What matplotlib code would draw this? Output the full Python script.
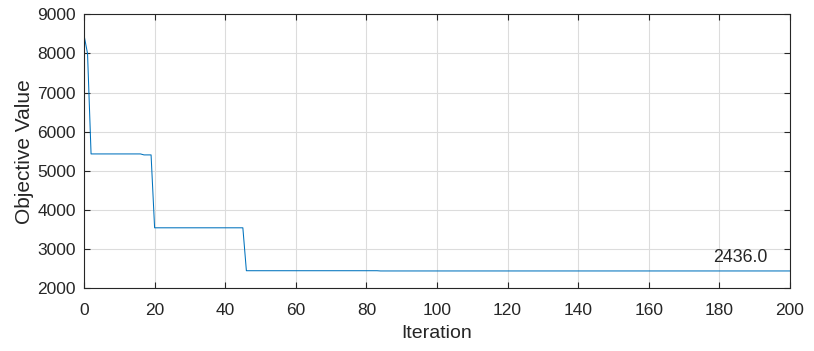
import matplotlib.pyplot as plt
import numpy as np

plt.rcParams['font.family'] = ['Liberation Sans', 'DejaVu Sans']

# best objective value per iteration (step-wise)
iters = np.arange(0, 201)
step_starts = [0, 1, 2, 17, 20, 46, 84]
step_values = [8470, 8000, 5430, 5405, 3540, 2442, 2436]

obj = np.zeros(len(iters))
for s, v in zip(step_starts, step_values):
    obj[iters >= s] = v

final_label = '2436.0'
label_pos = (178.3, 2770)

ax_color = '#262626'

fig = plt.figure(figsize=(8.14, 3.51), dpi=100)
ax = fig.add_axes([0.1032, 0.1795, 0.8673, 0.7795])

ax.plot(iters, obj, color='#0072BD', linewidth=0.75)
ax.text(label_pos[0], label_pos[1], final_label, fontsize=12.8, color=ax_color,
        ha='left', va='center')

ax.set_xlim(0, 200)
ax.set_ylim(2000, 9000)
ax.set_xticks(np.arange(0, 201, 20))
ax.set_yticks(np.arange(2000, 9001, 1000))
ax.grid(True, color='#dcdcdc', linewidth=0.8)
ax.set_axisbelow(True)

ax.tick_params(direction='in', top=True, right=True, labelsize=12.5,
               colors=ax_color, length=4, width=0.8)
ax.tick_params(axis='x', pad=11)
ax.tick_params(axis='y', pad=6)
for sp in ax.spines.values():
    sp.set_color(ax_color)
    sp.set_linewidth(0.8)

ax.set_xlabel('Iteration', fontsize=14, color=ax_color, labelpad=5)
ax.set_ylabel('Objective Value', fontsize=15, color=ax_color, labelpad=2)

fig.savefig('out.png', dpi=100)
